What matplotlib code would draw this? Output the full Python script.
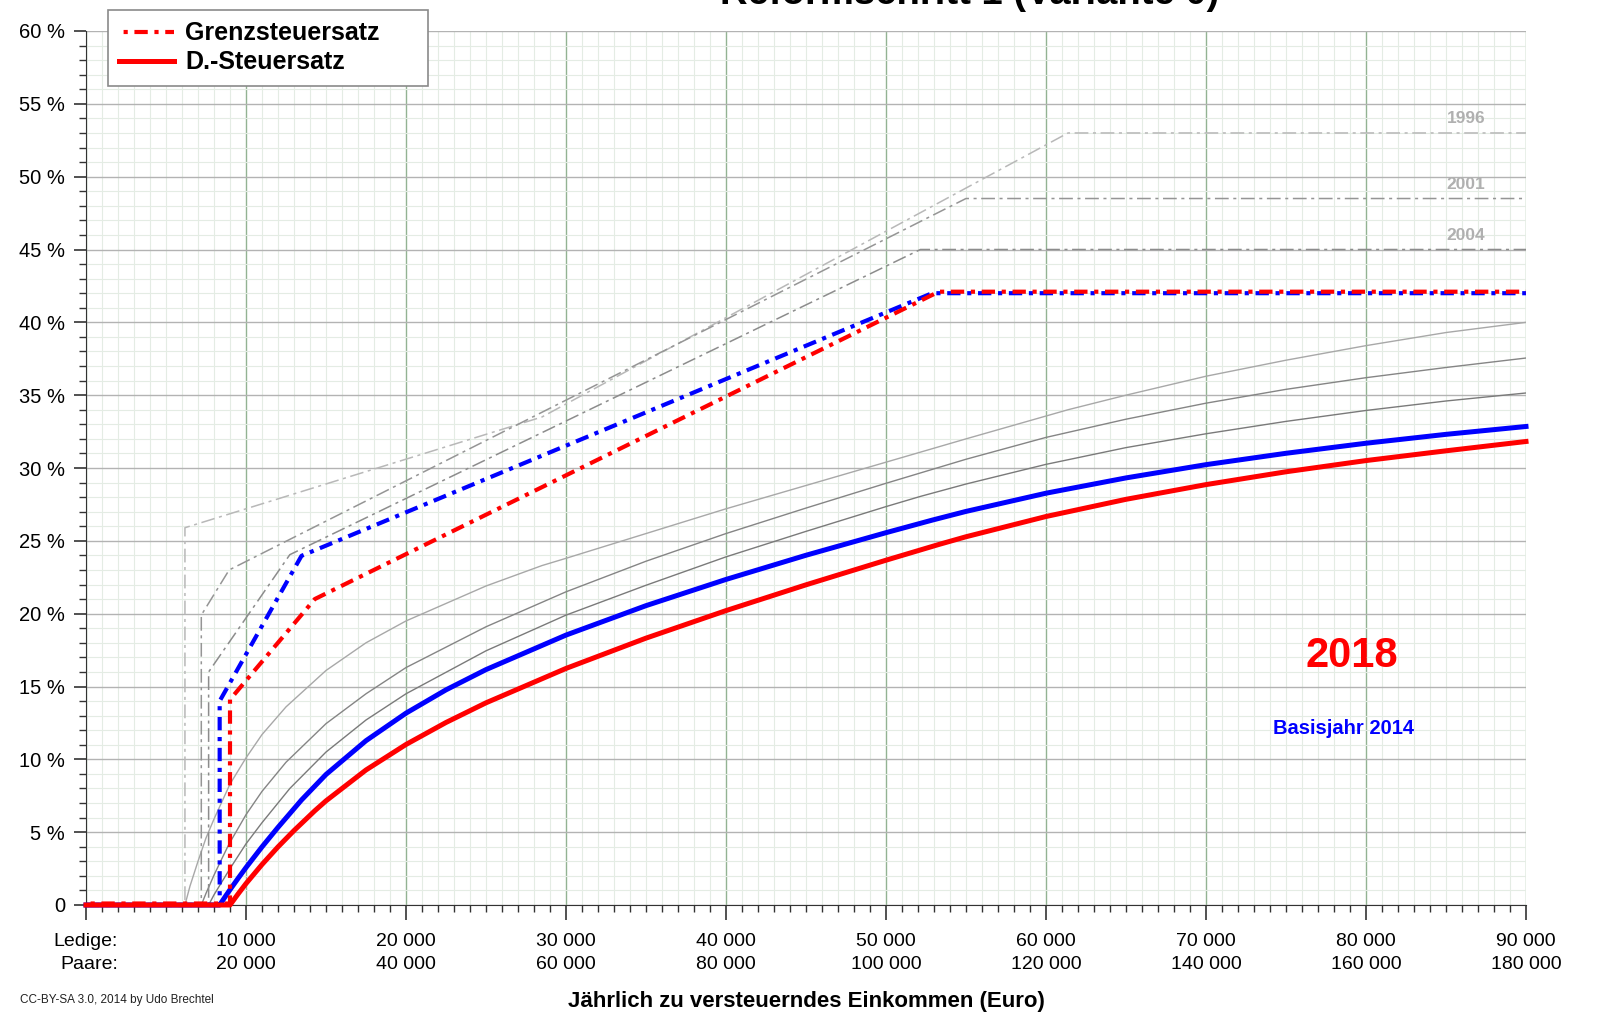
import matplotlib
matplotlib.use("Agg")
import matplotlib.pyplot as plt
import matplotlib.transforms as mtransforms
from matplotlib.ticker import MultipleLocator

plt.rcParams['font.family'] = ['Liberation Sans', 'DejaVu Sans']

# Grenzsteuersatz (marginal rate, %) over income for singles (Euro)
grenz_1996_x = [0, 6184, 6184, 28493, 61377, 90000]
grenz_1996_y = [0, 0, 25.9, 33.5, 53.0, 53.0]
grenz_2001_x = [0, 7206, 7206, 8946, 54999, 90000]
grenz_2001_y = [0, 0, 19.9, 23.0, 48.5, 48.5]
grenz_2004_x = [0, 7664, 7664, 12739, 52151, 90000]
grenz_2004_y = [0, 0, 16.0, 24.05, 45.0, 45.0]
grenz_2014_x = [0, 8354, 8354, 13469, 52881, 90000]
grenz_2014_y = [0, 0, 14.0, 23.97, 42.0, 42.0]
grenz_2018_x = [0, 9000, 9000, 14300, 53300, 90000]
grenz_2018_y = [0, 0, 14.0, 20.9, 42.0, 42.0]

# Durchschnittssteuersatz (average rate, %)
d_1996_x = [0, 6184, 6500, 7000, 7500, 8000, 9000, 10000, 11000, 12500, 15000, 17500, 20000,
            25000, 28493, 30000, 35000, 40000, 45000, 50000, 55000, 61377, 65000, 70000, 75000,
            80000, 85000, 90000]
d_1996_y = [0, 0, 1.3, 3.0, 4.6, 5.9, 8.3, 10.1, 11.7, 13.6, 16.1, 18.0, 19.5,
            21.9, 23.3, 23.8, 25.5, 27.2, 28.8, 30.4, 32.0, 34.0, 35.0, 36.3, 37.4,
            38.4, 39.3, 40.0]
d_2001_x = [0, 7206, 7500, 8000, 8500, 8946, 10000, 11000, 12500, 15000, 17500, 20000, 25000,
            30000, 35000, 40000, 45000, 50000, 54999, 60000, 65000, 70000, 75000, 80000, 85000,
            90000]
d_2001_y = [0, 0, 0.8, 2.05, 3.2, 4.2, 6.2, 7.8, 9.8, 12.45, 14.5, 16.3, 19.1,
            21.5, 23.6, 25.5, 27.25, 28.95, 30.6, 32.1, 33.35, 34.45, 35.4, 36.2, 36.9,
            37.55]
d_2004_x = [0, 7664, 8000, 8500, 9000, 10000, 11000, 12739, 15000, 17500, 20000, 25000, 30000,
            35000, 40000, 45000, 50000, 52151, 55000, 60000, 65000, 70000, 75000, 80000, 85000,
            90000]
d_2004_y = [0, 0, 0.7, 1.6, 2.5, 4.2, 5.65, 8.0, 10.5, 12.7, 14.5, 17.45, 19.9,
            21.95, 23.9, 25.65, 27.35, 28.05, 28.9, 30.25, 31.4, 32.35, 33.2, 33.95, 34.6,
            35.15]
d_2014_x = [0, 8354, 8700, 9000, 9500, 10000, 11000, 12000, 13469, 15000, 17500, 20000, 22500,
            25000, 30000, 35000, 40000, 45000, 50000, 52881, 55000, 60000, 65000, 70000, 75000,
            80000, 85000, 90000]
d_2014_y = [0, 0, 0.57, 1.05, 1.82, 2.57, 3.99, 5.33, 7.21, 8.96, 11.28, 13.17, 14.77,
            16.16, 18.53, 20.55, 22.35, 24.01, 25.56, 26.42, 27.02, 28.27, 29.32, 30.23, 31.01,
            31.70, 32.31, 32.85]
d_2018_x = [0, 9000, 9500, 10000, 11000, 12000, 13000, 14300, 15000, 17500, 20000, 22500, 25000,
            30000, 35000, 40000, 45000, 50000, 53300, 55000, 60000, 65000, 70000, 75000, 80000,
            85000, 90000]
d_2018_y = [0, 0, 0.75, 1.47, 2.78, 3.99, 5.11, 6.47, 7.15, 9.27, 11.02, 12.53, 13.88,
            16.24, 18.32, 20.21, 21.98, 23.67, 24.75, 25.28, 26.67, 27.85, 28.86, 29.74, 30.51,
            31.18, 31.82]

x_ticks = [0, 10000, 20000, 30000, 40000, 50000, 60000, 70000, 80000, 90000]
x_single = ["Ledige:", "10 000", "20 000", "30 000", "40 000", "50 000", "60 000", "70 000", "80 000", "90 000"]
x_couple = ["Paare:", "20 000", "40 000", "60 000", "80 000", "100 000", "120 000", "140 000", "160 000", "180 000"]
y_ticks = [0, 5, 10, 15, 20, 25, 30, 35, 40, 45, 50, 55, 60]
y_labels = ["0", "5 %", "10 %", "15 %", "20 %", "25 %", "30 %", "35 %", "40 %", "45 %", "50 %", "55 %", "60 %"]

year_labels = ["1996", "2001", "2004"]
year_levels = [53.0, 48.5, 45.0]

fig = plt.figure(figsize=(16.05, 10.35), dpi=100)
ax = fig.add_axes([86 / 1605, 130 / 1035, 1440 / 1605, 874 / 1035])

ax.set_xlim(0, 90000)
ax.set_ylim(0, 60)

# grid
ax.xaxis.set_minor_locator(MultipleLocator(1000))
ax.yaxis.set_minor_locator(MultipleLocator(1))
ax.grid(which="minor", axis="both", color="#e4ece4", linewidth=0.8, zorder=0)
ax.grid(which="major", axis="x", color="#93b393", linewidth=1.0, zorder=0)
ax.grid(which="major", axis="y", color="#b3b3b3", linewidth=1.0, zorder=0)
ax.set_axisbelow(True)

for s in ["top", "right"]:
    ax.spines[s].set_visible(False)
ax.spines["left"].set_color("#333333")
ax.spines["bottom"].set_color("#333333")

# historic tariffs
dd = (0, (9, 3, 2, 3))
ax.plot(d_1996_x, d_1996_y, color="#a8a8a8", linewidth=1.0, zorder=2)
ax.plot(d_2001_x, d_2001_y, color="#858585", linewidth=1.0, zorder=2)
ax.plot(d_2004_x, d_2004_y, color="#7a7a7a", linewidth=1.0, zorder=2)
ax.plot(grenz_1996_x, grenz_1996_y, color="#b8b8b8", linewidth=1.1, linestyle=dd, zorder=2)
ax.plot(grenz_2001_x, grenz_2001_y, color="#959595", linewidth=1.1, linestyle=dd, zorder=2)
ax.plot(grenz_2004_x, grenz_2004_y, color="#8c8c8c", linewidth=1.1, linestyle=dd, zorder=2)

for lab, lev in zip(year_labels, year_levels):
    ax.annotate(lab, xy=(86250, lev), xytext=(0, 5.0), textcoords="offset points",
                ha="center", va="bottom", fontsize=12.5, fontweight="bold", color="#b0b0b0")

# basis year 2014 and reform 2018
bd = (0, (3.2, 1.6, 1.0, 1.6))
ax.plot(d_2014_x, d_2014_y, color="#0000ff", linewidth=3.6, zorder=4, clip_on=False)
ax.plot(grenz_2014_x, grenz_2014_y, color="#0000ff", linewidth=3.0, linestyle=bd, zorder=4, clip_on=False)
up = mtransforms.offset_copy(ax.transData, fig=fig, x=0, y=1.5, units="dots")
ax.plot(grenz_2018_x, grenz_2018_y, color="#ff0000", linewidth=3.0, linestyle=(3.7, (3.2, 1.6, 1.0, 1.6)),
        zorder=5, transform=up, clip_on=False, label="Grenzsteuersatz")
ax.plot(d_2018_x, d_2018_y, color="#ff0000", linewidth=3.6, zorder=5, clip_on=False, label="D.-Steuersatz")

# ticks
ax.set_xticks(x_ticks)
ax.set_xticklabels([a + "\n" + b for a, b in zip(x_single, x_couple)], fontsize=14, linespacing=1.5)
ax.get_xticklabels()[0].set_multialignment("right")
ax.set_yticks(y_ticks)
ax.set_yticklabels(y_labels, fontsize=14.5)
ax.tick_params(axis="x", which="major", direction="out", length=11, width=1.2, color="#333333", pad=9)
ax.tick_params(axis="x", which="minor", direction="out", length=5, width=1.0, color="#333333")
ax.tick_params(axis="y", which="major", direction="out", length=9, width=1.2, color="#333333", pad=6)
ax.tick_params(axis="y", which="minor", direction="out", length=5, width=1.0, color="#333333")

ax.set_xlabel("Jährlich zu versteuerndes Einkommen (Euro)", fontsize=16, fontweight="bold", labelpad=13)

ax.text(79100, 17.1, "2018", color="#ff0000", fontsize=30, fontweight="bold", ha="center", va="center")
ax.text(78600, 12.1, "Basisjahr 2014", color="#0000ff", fontsize=14.5, fontweight="bold", ha="center", va="center")

fig.text(0.604, 0.996, "Reformschritt 1 (Variante 0)", fontsize=27.5, fontweight="bold",
         ha="center", va="baseline")
fig.text(20 / 1605, 1 - 1000 / 1035, "CC-BY-SA 3.0, 2014 by Udo Brechtel", fontsize=8.5,
         ha="left", va="center", color="#222222")

leg = ax.legend(loc="upper left", bbox_to_anchor=(108 / 1605, 1 - 90 / 1035, 320 / 1605, 80 / 1035),
                bbox_transform=fig.transFigure, mode="expand", borderaxespad=0,
                prop={"weight": "bold", "size": 18}, handlelength=2.2, handletextpad=0.45,
                labelspacing=0.2, borderpad=0.45, fancybox=False, framealpha=1, edgecolor="#8a8a8a")
leg.get_frame().set_linewidth(1.2)

fig.savefig("out.png", dpi=100)
